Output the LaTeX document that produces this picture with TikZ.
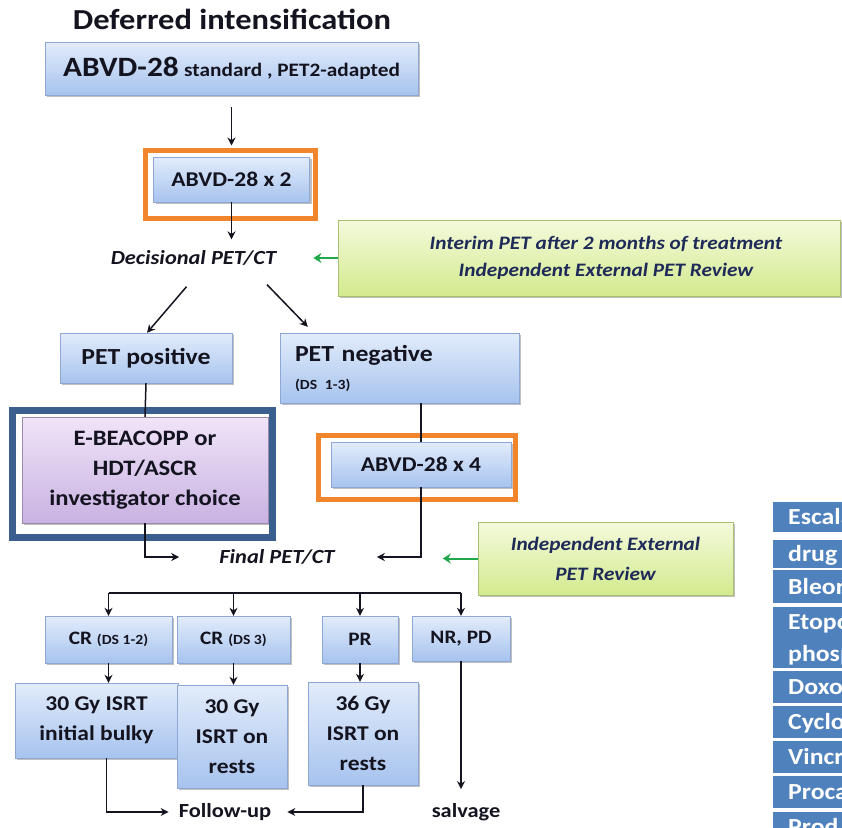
\documentclass[tikz,border=0pt]{standalone}
\usepackage{fontspec}
\setmainfont{Carlito}[FakeStretch=1.12]
\usetikzlibrary{arrows.meta,positioning,shadows,calc}
\definecolor{boxtop}{HTML}{E2ECFB}
\definecolor{boxbot}{HTML}{A7C3EE}
\definecolor{boxline}{HTML}{8FA8D3}
\definecolor{greentop}{HTML}{F4FADC}
\definecolor{greenbot}{HTML}{D3EA8E}
\definecolor{greenline}{HTML}{A9BF74}
\definecolor{purptop}{HTML}{F0E4F8}
\definecolor{purpbot}{HTML}{C9B2E2}
\definecolor{purpline}{HTML}{9C8AAE}
\definecolor{frameorange}{HTML}{F0852B}
\definecolor{frameblue}{HTML}{3A5F8E}
\definecolor{cellblue}{HTML}{4F81BD}
\definecolor{arrowgreen}{HTML}{22A84A}
\definecolor{inkdark}{HTML}{141420}
\definecolor{inknavy}{HTML}{1E2A58}

\begin{document}
\begin{tikzpicture}[x=1pt,y=-1pt,
  flowbox/.style={draw=boxline, top color=boxtop, bottom color=boxbot,
    drop shadow={shadow xshift=2pt, shadow yshift=-2pt, fill=black, opacity=.25},
    inner sep=0pt, align=center, text=inkdark, font=\bfseries\fontsize{21}{30}\selectfont},
  greenbox/.style={flowbox, draw=greenline, top color=greentop, bottom color=greenbot,
    text=inknavy, font=\bfseries\itshape\fontsize{19}{27}\selectfont},
  purplebox/.style={flowbox, draw=purpline, top color=purptop, bottom color=purpbot},
  orangeframe/.style={draw=frameorange, line width=5pt, inner sep=0pt},
  blueframe/.style={draw=frameblue, line width=7pt, inner sep=0pt},
  plaintext/.style={inner sep=0pt, text=inkdark, font=\bfseries\fontsize{20}{24}\selectfont},
  cell/.style={fill=cellblue, text=white, anchor=north west, inner xsep=15pt, inner ysep=0pt,
    text width=100pt, align=left, text height=19pt, text depth=4pt,
    font=\bfseries\fontsize{23}{32}\selectfont},
  link/.style={draw=inkdark, line width=1.5pt},
  arr/.style={link, -{Stealth[length=8pt,width=8pt]}},
  greenarr/.style={draw=arrowgreen, line width=2pt, -{Stealth[length=8pt,width=10pt]}},
]
  \useasboundingbox (0,0) rectangle (842,827);
  % Title and first course
  \node[plaintext, font=\bfseries\fontsize{29}{34}\selectfont] (title) at (232,19) {Deferred intensification};
  \node[flowbox, minimum width=373pt, minimum height=53pt] (abvd) at (231.5,68.5)
    {{\fontsize{28}{32}\selectfont ABVD-28} {\fontsize{19}{22}\selectfont standard , PET2-adapted}};
  \node[flowbox, minimum width=156pt, minimum height=45pt] (abvd2) at (231.5,179.5) {ABVD-28 x 2};
  \node[orangeframe, minimum width=170pt, minimum height=68pt] (frame2) at (230.5,184.5) {};
  % Interim PET
  \node[plaintext, font=\bfseries\itshape\fontsize{20}{24}\selectfont] (dec) at (193.5,258) {Decisional PET/CT};
  \node[greenbox, minimum width=502pt, minimum height=76pt] (interim) at (589,258)
    {\hspace*{34pt}Interim PET after 2 months of treatment\\\hspace*{34pt}Independent External PET Review};
  % PET positive branch
  \node[flowbox, minimum width=172pt, minimum height=50pt, font=\bfseries\fontsize{23}{28}\selectfont] (petpos) at (146,358) {PET positive};
  \node[purplebox, minimum width=246pt, minimum height=106pt, font=\bfseries\fontsize{22}{30}\selectfont] (choice) at (145,470)
    {E-BEACOPP or\\HDT/ASCR\\investigator choice};
  \node[blueframe, minimum width=260pt, minimum height=127pt] (bframe) at (142.5,474) {};
  % PET negative branch
  \node[flowbox, minimum width=239pt, minimum height=70pt, text width=209pt, align=left,
    font=\bfseries\fontsize{23}{28}\selectfont] (petneg) at (399.5,368)
    {PET negative\\{\fontsize{14}{16}\selectfont (DS 1-3)}};
  \node[flowbox, minimum width=180pt, minimum height=45pt] (abvd4) at (421,464.5) {ABVD-28 x 4};
  \node[orangeframe, minimum width=197pt, minimum height=64pt] (frame4) at (417,467.5) {};
  % Final PET
  \node[plaintext, font=\bfseries\itshape\fontsize{20}{24}\selectfont] (final) at (277,557) {Final PET/CT};
  \node[greenbox, minimum width=255pt, minimum height=73pt, font=\bfseries\itshape\fontsize{19}{30}\selectfont] (review) at (605.5,558.5)
    {Independent External\\PET Review};
  % Responses
  \node[flowbox, minimum width=127pt, minimum height=47pt, font=\bfseries\fontsize{19}{24}\selectfont] (cr12) at (108.5,639.5)
    {CR {\fontsize{14}{16}\selectfont (DS 1-2)}};
  \node[flowbox, minimum width=113pt, minimum height=47pt, font=\bfseries\fontsize{19}{24}\selectfont] (cr3) at (233.5,639.5)
    {CR {\fontsize{14}{16}\selectfont (DS 3)}};
  \node[flowbox, minimum width=76pt, minimum height=47pt, font=\bfseries\fontsize{19}{24}\selectfont] (pr) at (360,639.5) {PR};
  \node[flowbox, minimum width=98pt, minimum height=45pt, font=\bfseries\fontsize{19}{24}\selectfont] (nrpd) at (461,638.5) {NR, PD};
  % Radiotherapy
  \node[flowbox, minimum width=163pt, minimum height=75pt] (bulky) at (96.5,720.5) {30 Gy ISRT\\initial bulky};
  \node[flowbox, minimum width=110pt, minimum height=103pt] (rests1) at (232,736.5) {30 Gy\\ISRT on\\rests};
  \node[flowbox, minimum width=110pt, minimum height=103pt] (rests2) at (363,733.5) {36 Gy\\ISRT on\\rests};
  \node[plaintext] (follow) at (225,812) {Follow-up};
  \node[plaintext] (salvage) at (466,812) {salvage};
  % Table at the edge
  \begin{scope}
    \clip (0,0) rectangle (842,827);
    \foreach \ytop/\hgt/\txt in {502/30/Escala, 540/28/drug, 570/33/Bleor,
        671/32/Doxo, 706/32/Cyclo, 741/32/Vincr, 776/32/Proca, 812/30/Prod}
      \node[cell, minimum height=\hgt pt] (cell\ytop) at (773,\ytop) {\txt};
    \node[cell, minimum height=61pt, text depth=36pt] (cell607) at (773,607) {Etopo\\phosp};
  \end{scope}
  % Connectors
  \draw[arr, shorten <=12pt, shorten >=2.5pt] (abvd.south) -- (abvd.south |- frame2.north);
  \draw[arr] (abvd2.south) -- ([yshift=11pt]abvd2.south |- dec.north);
  \draw[greenarr, shorten >=37pt] (interim.west) -- (dec.east);
  \draw[arr] ([shift={(-7,21)}]dec.south) -- ([xshift=1pt]petpos.north);
  \draw[arr] ([shift={(73.5,19)}]dec.south) -- ([xshift=28pt,yshift=6pt]petneg.north west);
  \draw[link] (petpos.south) -- (choice.north);
  \draw[link] (petneg.south -| abvd4.north) -- (abvd4.north);
  \draw[arr, shorten >=40pt] (choice.south) |- (final.west);
  \draw[arr, shorten >=42pt] (abvd4.south) |- (final.east);
  \draw[greenarr, shorten >=108pt] (review.west) -- (review.west -| final.east);
  \coordinate (bar) at (final.south |- 0,593);
  \draw[link] (cr12.north |- bar) -- (nrpd.north |- bar);
  \foreach \n in {cr12,cr3,pr,nrpd}
    \draw[arr] (\n.north |- bar) -- (\n.north);
  \draw[arr] (cr12.south) -- (cr12.south |- bulky.north);
  \draw[arr] (cr3.south) -- (cr3.south |- rests1.north);
  \draw[arr] (pr.south) -- (pr.south |- rests2.north);
  \draw[arr, shorten >=10pt] ([xshift=10pt]bulky.south) |- (follow.west);
  \draw[arr, shorten >=16pt] (rests2.south) |- (follow.east);
  \draw[arr, shorten >=14pt] (nrpd.south) -- (nrpd.south |- salvage.north);
\end{tikzpicture}
\end{document}
